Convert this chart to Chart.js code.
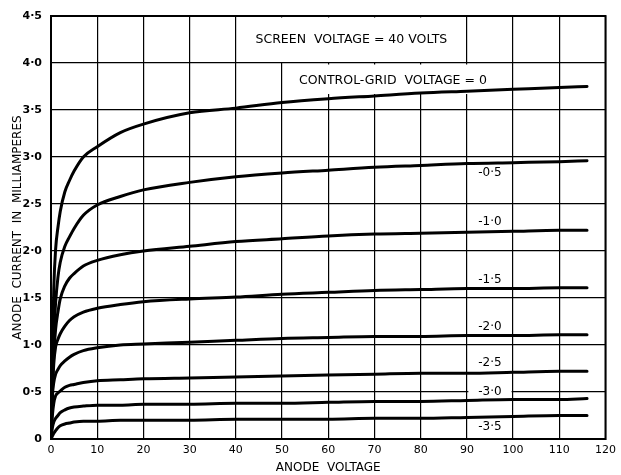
<!DOCTYPE html>
<html>
<head>
<meta charset="utf-8">
<title>Anode characteristics</title>
<script src="https://cdn.jsdelivr.net/npm/chart.js@4.4.1/dist/chart.umd.min.js"></script>
<style>
  html, body { margin: 0; padding: 0; background: #fff; }
  canvas { display: block; }
</style>
</head>
<body>
<canvas id="chart" width="621" height="475"></canvas>
<script>
// Anode voltage sample points (volts), shared by every curve
const anodeVolts = [0, 0.3, 0.6, 1, 1.5, 2, 3, 4, 5, 7, 10, 15, 20, 30, 40, 50, 60, 70, 80, 90, 100, 110, 116];

// Anode current (mA) for each control-grid voltage
const gridVolts = ['0', '-0·5', '-1·0', '-1·5', '-2·0', '-2·5', '-3·0', '-3·5'];
const currentG0   = [0, 0.9, 1.6, 2.02, 2.25, 2.42, 2.63, 2.75, 2.85, 3.0, 3.11, 3.26, 3.35, 3.47, 3.52, 3.58, 3.62, 3.65, 3.68, 3.7, 3.72, 3.74, 3.75];
const currentG05  = [0, 0.6, 1.1, 1.45, 1.72, 1.88, 2.05, 2.15, 2.24, 2.38, 2.49, 2.58, 2.65, 2.73, 2.79, 2.83, 2.86, 2.89, 2.91, 2.93, 2.94, 2.95, 2.96];
const currentG10  = [0, 0.55, 0.9, 1.17, 1.35, 1.49, 1.63, 1.71, 1.76, 1.84, 1.9, 1.96, 2.0, 2.05, 2.1, 2.13, 2.16, 2.18, 2.19, 2.2, 2.21, 2.22, 2.22];
const currentG15  = [0, 0.5, 0.8, 0.98, 1.06, 1.12, 1.2, 1.26, 1.3, 1.35, 1.39, 1.43, 1.46, 1.49, 1.51, 1.54, 1.56, 1.58, 1.59, 1.6, 1.6, 1.61, 1.61];
const currentG20  = [0, 0.45, 0.6, 0.69, 0.74, 0.78, 0.83, 0.87, 0.9, 0.94, 0.97, 1.0, 1.01, 1.03, 1.05, 1.07, 1.08, 1.09, 1.09, 1.1, 1.1, 1.11, 1.11];
const currentG25  = [0, 0.25, 0.38, 0.46, 0.49, 0.51, 0.55, 0.57, 0.58, 0.6, 0.62, 0.63, 0.64, 0.65, 0.66, 0.67, 0.68, 0.69, 0.7, 0.7, 0.71, 0.72, 0.72];
const currentG30  = [0, 0.12, 0.18, 0.22, 0.25, 0.28, 0.31, 0.33, 0.34, 0.35, 0.36, 0.36, 0.37, 0.37, 0.38, 0.38, 0.39, 0.4, 0.4, 0.41, 0.42, 0.42, 0.43];
const currentG35  = [0, 0.03, 0.06, 0.09, 0.12, 0.14, 0.16, 0.17, 0.18, 0.19, 0.19, 0.2, 0.2, 0.2, 0.21, 0.21, 0.21, 0.22, 0.22, 0.23, 0.24, 0.25, 0.25];
const currents = [currentG0, currentG05, currentG10, currentG15, currentG20, currentG25, currentG30, currentG35];

// Axis tick labels
const yTickLabels = ['0', '0·5', '1·0', '1·5', '2·0', '2·5', '3·0', '3·5', '4·0', '4·5'];

// Where each curve's grid-voltage label sits (mA), in the 90-100 V column
const curveLabelY = [null, 2.83, 2.31, 1.69, 1.19, 0.81, 0.50, 0.13];

const FONT = '"DejaVu Sans", sans-serif';

const datasets = currents.map((vals, i) => ({
  label: gridVolts[i],
  data: anodeVolts.map((v, j) => ({ x: v, y: vals[j] })),
  borderColor: '#000',
  borderWidth: 3,
  borderCapStyle: 'round',
  pointRadius: 0,
  showLine: true,
  fill: false,
  cubicInterpolationMode: 'monotone'
}));

// White panels with printed notes, drawn over the grid but under the curves
const notesPlugin = {
  id: 'notes',
  beforeDatasetsDraw(chart) {
    const { ctx, chartArea: area, scales: { x, y } } = chart;
    ctx.save();
    // heavier frame on the top and right edges
    ctx.strokeStyle = '#000';
    ctx.lineWidth = 2;
    ctx.strokeRect(area.left, area.top, area.right - area.left, area.bottom - area.top);

    ctx.fillStyle = '#fff';
    const panel = (x0, x1, y0, y1) => {
      const l = x.getPixelForValue(x0) + 1.5, r = x.getPixelForValue(x1) - 1.5;
      ctx.fillRect(l, y0, r - l, y1 - y0);
    };
    panel(40, 90, y.getPixelForValue(4.5) + 1.5, y.getPixelForValue(4.0) - 1);
    panel(50, 100, y.getPixelForValue(4.0) + 1.5, y.getPixelForValue(3.67));
    curveLabelY.forEach(v => {
      if (v === null) return;
      const py = y.getPixelForValue(v);
      panel(90, 100, py - 6, py + 6);
    });

    ctx.fillStyle = '#000';
    ctx.textAlign = 'center';
    ctx.textBaseline = 'middle';
    ctx.font = '12.5px ' + FONT;
    ctx.fillText('SCREEN  VOLTAGE = 40 VOLTS', x.getPixelForValue(65), y.getPixelForValue(4.245));
    ctx.fillText('CONTROL-GRID  VOLTAGE = 0', x.getPixelForValue(74), y.getPixelForValue(3.815));
    ctx.font = '12px ' + FONT;
    curveLabelY.forEach((v, i) => {
      if (v === null) return;
      ctx.fillText(gridVolts[i], x.getPixelForValue(95), y.getPixelForValue(v));
    });
    ctx.restore();
  }
};

new Chart(document.getElementById('chart').getContext('2d'), {
  type: 'scatter',
  data: { datasets },
  plugins: [notesPlugin],
  options: {
    responsive: false,
    animation: false,
    layout: { padding: { top: 16, right: 14, left: 0, bottom: 0 } },
    plugins: { legend: { display: false }, tooltip: { enabled: false } },
    scales: {
      x: {
        type: 'linear',
        min: 0,
        max: 120,
        afterFit(scale) { scale.height = 36; },
        grid: { color: '#000', lineWidth: 1.2, drawTicks: false },
        border: { color: '#000', width: 2 },
        ticks: {
          stepSize: 10,
          autoSkip: false,
          maxRotation: 0,
          padding: 5,
          color: '#000',
          font: { family: FONT, size: 11 }
        },
        title: {
          display: true,
          text: 'ANODE  VOLTAGE',
          color: '#000',
          font: { family: FONT, size: 12 },
          padding: { top: 0, bottom: 0 }
        }
      },
      y: {
        type: 'linear',
        min: 0,
        max: 4.5,
        afterFit(scale) { scale.width = 51; },
        grid: { color: '#000', lineWidth: 1.2, drawTicks: false },
        border: { color: '#000', width: 2 },
        ticks: {
          stepSize: 0.5,
          autoSkip: false,
          padding: 9,
          color: '#000',
          font: { family: FONT, size: 11, weight: 'bold' },
          callback: (v, i) => yTickLabels[i]
        },
        title: {
          display: true,
          text: 'ANODE  CURRENT  IN  MILLIAMPERES',
          color: '#000',
          font: { family: FONT, size: 12 },
          padding: { top: 11, bottom: 0 }
        }
      }
    }
  }
});
</script>
</body>
</html>
